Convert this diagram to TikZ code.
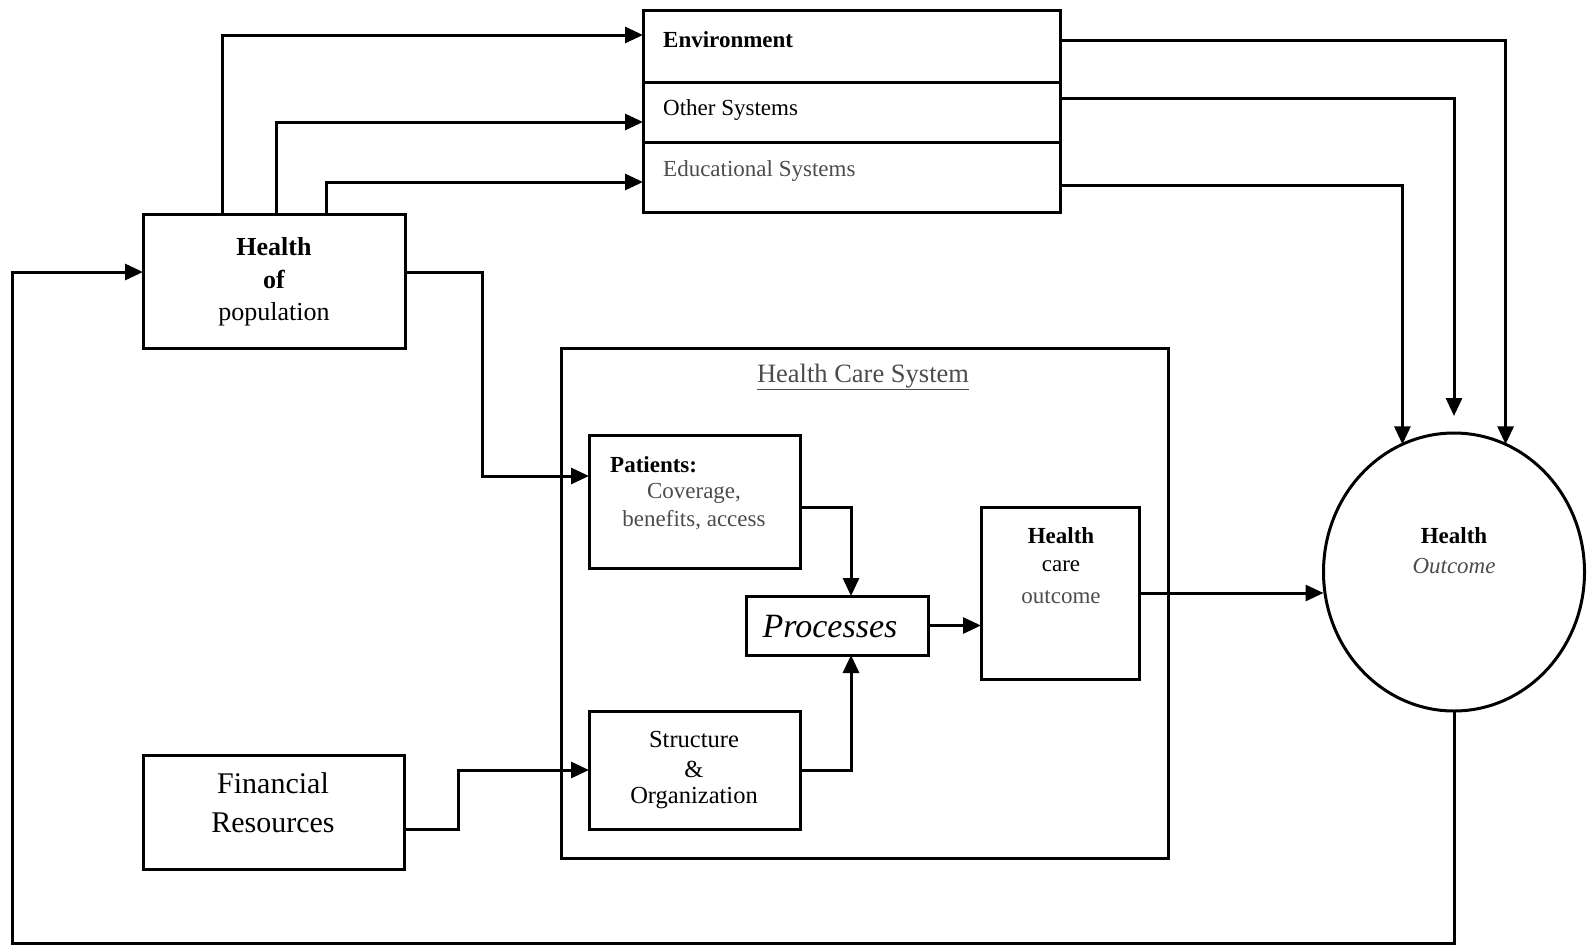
\documentclass[tikz,border=0pt]{standalone}
\usepackage{fontspec}
\setmainfont{Liberation Serif}
\usetikzlibrary{arrows.meta,shapes.geometric}
\newcommand{\tsz}{\fontsize{23}{28}\selectfont}
\newcommand{\hsz}{\fontsize{26}{30}\selectfont}
\begin{document}
\begin{tikzpicture}[x=1pt,y=-1pt,
  box/.style={draw,line width=3pt,minimum width=#1,inner sep=0pt,outer sep=0pt},
  lbl/.style={inner sep=0pt,font=\tsz},
  gtxt/.style={inner sep=0pt,font=\tsz,text=black!70},
  conn/.style={line width=3pt},
  arr/.style={line width=3pt,-{Triangle[length=18pt,width=16pt]}}]
\useasboundingbox (0,0) rectangle (1588,945);
% top stacked boxes
\node[box=417pt,minimum height=72pt] (env) at (851.5,46) {};
\node[box=417pt,minimum height=60pt] (oth) at (851.5,112) {};
\node[box=417pt,minimum height=70pt] (edu) at (851.5,177) {};
\node[lbl,anchor=west,font=\tsz\bfseries] (envt) at (663,40) {Environment};
\node[lbl,anchor=west] (otht) at (663,110) {Other Systems};
\node[gtxt,anchor=west] (edut) at (663,171) {Educational Systems};
% health of population
\node[box=262pt,minimum height=134pt] (hop) at (274,281) {};
\node[lbl,font=\hsz\bfseries] (hop1) at (274,247) {Health};
\node[lbl,font=\hsz\bfseries] (hop2) at (274,279) {of};
\node[lbl,font=\hsz] (hop3) at (274,314) {population};
% health care system
\node[box=607pt,minimum height=510pt] (hcs) at (864.5,603) {};
\node[gtxt,font=\fontsize{26.5}{30}\selectfont] (hcst) at (863,377) {\underline{Health Care System}};
\node[box=211pt,minimum height=133pt] (pat) at (694.5,501.5) {};
\node[lbl,anchor=west,font=\tsz\bfseries] (pat1) at (610,465) {Patients:};
\node[gtxt] (pat2) at (694,493) {Coverage,};
\node[gtxt] (pat3) at (694,520) {benefits, access};
\node[box=182pt,minimum height=59pt] (proc) at (837,625.5) {};
\node[lbl,font=\fontsize{34}{40}\selectfont\itshape] (proct) at (830,627) {Processes};
\node[box=158pt,minimum height=172pt] (hco) at (1060,593) {};
\node[lbl,font=\tsz\bfseries] (hco1) at (1061,536) {Health};
\node[lbl] (hco2) at (1061,566) {care};
\node[gtxt] (hco3) at (1061,597) {outcome};
\node[box=211pt,minimum height=118pt] (str) at (694.5,770) {};
\node[lbl,font=\fontsize{24.5}{28}\selectfont] (str1) at (694,739) {Structure};
\node[lbl,font=\fontsize{24.5}{28}\selectfont] (str2) at (694,769) {\&};
\node[lbl,font=\fontsize{24.5}{28}\selectfont] (str3) at (694,798) {Organization};
% financial resources
\node[box=261pt,minimum height=114pt] (fin) at (273.5,812) {};
\node[lbl,font=\fontsize{30}{36}\selectfont] (fin1) at (273,783) {Financial};
\node[lbl,font=\fontsize{30}{36}\selectfont] (fin2) at (273,823) {Resources};
% health outcome
\node[draw,line width=3pt,ellipse,minimum width=261pt,minimum height=278pt,inner sep=0pt,outer sep=0pt] (circ) at (1454,572) {};
\node[lbl,font=\tsz\bfseries] (ho1) at (1454,536) {Health};
\node[gtxt,font=\tsz\itshape] (ho2) at (1454,566) {Outcome};
% coordinates
\coordinate (a1) at (222,35);
\coordinate (a2) at (276,122);
\coordinate (a3) at (326,182);
\coordinate (r1) at (1060,40);
\coordinate (r2) at (1060,98);
\coordinate (r3) at (1060,185);
\coordinate (h1) at (143,272);
\coordinate (p1) at (482,476);
\coordinate (pc) at (851,507);
\coordinate (f1) at (458,829);
\coordinate (fb) at (12,943);
% connectors
\draw[arr] (hop.north -| a1) |- (env.west |- a1);
\draw[arr] (hop.north -| a2) |- (oth.west |- a2);
\draw[arr] (hop.north -| a3) |- (edu.west |- a3);
\draw[arr] (env.east |- r1) -| (circ.68);
\draw[arr,shorten >=17pt] (oth.east |- r2) -| (circ.north);
\draw[arr] (edu.east |- r3) -| (circ.112);
\draw[arr] (hop.east |- h1) -| (p1) -- (p1 -| pat.west);
\draw[arr] (pat.east |- pc) -| (proc.north -| pc);
\draw[arr] (str.east) -| (proc.south -| pc);
\draw[arr] (proc.east) -- (proc.east -| hco.west);
\draw[arr] (hco.east) -- (hco.east -| circ.west);
\draw[arr] (fin.east |- f1) -- (f1) |- (str.west);
\draw[arr] (circ.south) |- (fb) |- (hop.west |- h1);
\end{tikzpicture}
\end{document}
